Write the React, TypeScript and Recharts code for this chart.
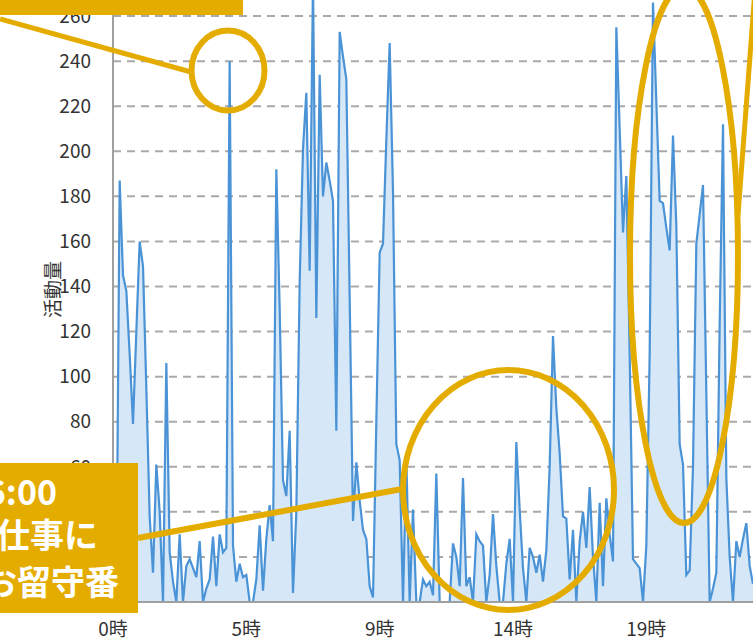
import React from 'react';
import {
  AreaChart,
  Area,
  XAxis,
  YAxis,
  CartesianGrid
} from 'recharts';

// activity per time slot
const activity = [
  0, 0, 187, 145, 138, 110, 79, 120, 160, 149,
  95, 38, 13, 61, 40, 0, 106, 22, 9, 0,
  30, 0, 16, 19, 15, 11, 27, 0, 6, 10,
  29, 7, 30, 22, 24, 240, 25, 9, 17, 11,
  12, 0, 0, 10, 34, 5, 28, 43, 27, 192,
  130, 54, 47, 76, 4, 40, 142, 201, 226, 147,
  275, 126, 234, 180, 195, 187, 178, 76, 253, 242,
  232, 135, 36, 62, 45, 32, 28, 7, 2, 80,
  155, 159, 205, 248, 182, 70, 63, 0, 64, 0,
  41, 0, 0, 10, 7, 9, 3, 57, 0, 0,
  0, 0, 26, 20, 7, 55, 7, 11, 0, 30,
  27, 25, 0, 12, 39, 16, 0, 0, 17, 28,
  0, 71, 41, 15, 0, 24, 20, 13, 21, 9,
  23, 60, 118, 86, 66, 38, 37, 10, 32, 0,
  27, 40, 24, 51, 20, 0, 44, 7, 46, 30,
  18, 255, 210, 164, 189, 110, 19, 17, 15, 0,
  25, 110, 266, 222, 178, 177, 166, 156, 207, 167,
  70, 61, 12, 14, 60, 159, 172, 185, 93, 0,
  6, 13, 123, 212, 55, 20, 0, 27, 20, 28,
  35, 16, 8
];

const tickLabels = ['0時', '5時', '9時', '14時', '19時'];
const slotsPerTick = 40;
const yTicks = [0, 20, 40, 60, 80, 100, 120, 140, 160, 180, 200, 220, 240, 260, 280];
const noteLines = ['6:00', '仕事に', 'お留守番'];

const FONT = '"Noto Sans CJK JP", "Noto Sans", sans-serif';
const GOLD = '#e5ac00';

const chartData = activity.map((value, slot) => ({ slot, value }));

const AxisTitle = ({ viewBox }: any) => {
  const cy = viewBox.y + viewBox.height / 2 + 3;
  return (
    <text
      x={51}
      y={cy}
      transform={`rotate(-90 51 ${cy})`}
      textAnchor="middle"
      dominantBaseline="central"
      fill="#333"
      fontSize={19}
      fontFamily={FONT}
    >
      活動量
    </text>
  );
};

const Annotations = () => (
  <svg
    width={753}
    height={641}
    style={{ position: 'absolute', left: 0, top: 0, pointerEvents: 'none' }}
  >
    <rect x={0} y={0} width={243} height={15} fill={GOLD} />
    <line x1={0} y1={19} x2={191} y2={72} stroke={GOLD} strokeWidth={5} />
    <ellipse cx={228} cy={70.5} rx={36.5} ry={40} fill="none" stroke={GOLD} strokeWidth={6} />

    <line x1={138} y1={538} x2={402} y2={489} stroke={GOLD} strokeWidth={6} />
    <ellipse cx={508.5} cy={490} rx={105.5} ry={120} fill="none" stroke={GOLD} strokeWidth={6} />

    <ellipse cx={684} cy={255} rx={54} ry={268} fill="none" stroke={GOLD} strokeWidth={6} />
    <line x1={738} y1={215} x2={755} y2={-10} stroke={GOLD} strokeWidth={5} />

    <rect x={0} y={463} width={138} height={150} fill={GOLD} />
    <g fill="#fff" fontWeight="bold" fontSize={34} fontFamily={FONT} textAnchor="end">
      <text x={57} y={505}>{noteLines[0]}</text>
      <text x={98} y={548}>{noteLines[1]}</text>
      <text x={119} y={595}>{noteLines[2]}</text>
    </g>
  </svg>
);

const App: React.FC = () => {
  return (
    <div
      style={{
        position: 'absolute',
        left: 0,
        top: 0,
        width: 753,
        height: 641,
        overflow: 'hidden',
        background: '#fff'
      }}
    >
      <div style={{ position: 'absolute', left: 0, top: -40 }}>
        <AreaChart
          width={753}
          height={682}
          data={chartData}
          margin={{ top: 11, right: 0, bottom: 0, left: 0 }}
        >
          <CartesianGrid
            vertical={false}
            stroke="#a9a9a9"
            strokeWidth={2}
            strokeDasharray="8 6"
          />
          <XAxis
            dataKey="slot"
            interval={slotsPerTick - 1}
            height={40}
            tickLine={false}
            tickSize={0}
            tickMargin={21}
            axisLine={{ stroke: '#a0a0a0', strokeWidth: 2 }}
            tick={{ fill: '#333', fontSize: 19, fontFamily: FONT }}
            tickFormatter={(slot: number) => tickLabels[slot / slotsPerTick] ?? ''}
          />
          <YAxis
            width={113}
            domain={[0, 280]}
            ticks={yTicks}
            tickLine={false}
            tickSize={0}
            tickMargin={22}
            axisLine={{ stroke: '#a0a0a0', strokeWidth: 2 }}
            tick={{ fill: '#333', fontSize: 19, fontFamily: FONT }}
            label={<AxisTitle />}
          />
          <Area
            type="linear"
            dataKey="value"
            stroke="#4a93d6"
            strokeWidth={2.2}
            fill="#d6e7f7"
            fillOpacity={1}
            dot={false}
            activeDot={false}
            isAnimationActive={false}
          />
        </AreaChart>
      </div>
      <Annotations />
    </div>
  );
};

export default App;
